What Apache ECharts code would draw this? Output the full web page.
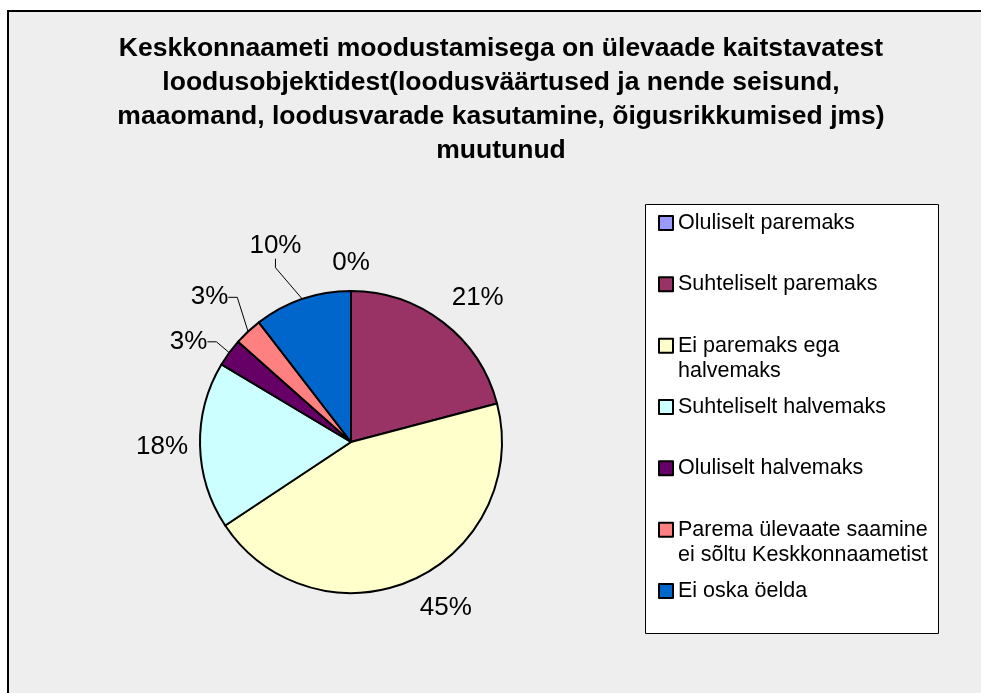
<!DOCTYPE html>
<html>
<head>
<meta charset="utf-8">
<script src="https://cdn.jsdelivr.net/npm/echarts@6/dist/echarts.min.js"></script>
<style>
  html, body { margin: 0; padding: 0; background: #fff; }
  #chart { width: 981px; height: 693px; }
</style>
</head>
<body>
<div id="chart"></div>
<script>
// answers (counts)
const categories = [
  'Oluliselt paremaks',
  'Suhteliselt paremaks',
  'Ei paremaks ega halvemaks',
  'Suhteliselt halvemaks',
  'Oluliselt halvemaks',
  'Parema ülevaate saamine ei sõltu Keskkonnaametist',
  'Ei oska öelda'
];
const counts = [0, 14, 30, 12, 2, 2, 7];
// legend text as wrapped in the original
const legendText = [
  'Oluliselt paremaks',
  'Suhteliselt paremaks',
  'Ei paremaks ega\nhalvemaks',
  'Suhteliselt halvemaks',
  'Oluliselt halvemaks',
  'Parema ülevaate saamine\nei sõltu Keskkonnaametist',
  'Ei oska öelda'
];
const colors = ['#9999FF', '#993366', '#FFFFCC', '#CCFFFF', '#660066', '#FF8080', '#0066CC'];
const withLeader = [false, false, false, false, true, true, true];
// how far the label sits out from the rim, and a small turn (deg) for the dragged ones
const labelGap = [15, 14, 17, 12, 17, 29, 40];
const labelTurn = [0, 0, 0, 0, -5, 0, 2.5];

const titleText = 'Keskkonnaameti moodustamisega on ülevaade kaitstavatest\n' +
  'loodusobjektidest(loodusväärtused ja nende seisund,\n' +
  'maaomand, loodusvarade kasutamine, õigusrikkumised jms)\n' +
  'muutunud';

const FONT = '"Liberation Sans", Arial, sans-serif';
const center = [351, 442];
const radius = 151;
const total = counts.reduce((a, b) => a + b, 0);

// mid angle of each slice, clockwise from 12 o'clock
let acc = 0;
const midAngles = counts.map((v, i) => {
  const a = (acc + v / 2) / total * Math.PI * 2 + labelTurn[i] * Math.PI / 180;
  acc += v;
  return a;
});

function clamp1 (v) {
  return Math.max(-1, Math.min(1, v));
}

// excel-ish placement: nearest corner of the label box sits on the mid-angle ray
function placeLabel (params) {
  const i = params.dataIndex;
  const w = params.labelRect.width;
  const h = params.labelRect.height;
  const dx = Math.sin(midAngles[i]);
  const dy = -Math.cos(midAngles[i]);
  const d = radius + labelGap[i];
  const cornerX = -clamp1(dx * 3) * w / 2;
  const cornerY = -clamp1(dy * 3) * h / 2;
  return {
    x: center[0] + d * dx - cornerX,
    y: center[1] + d * dy - cornerY,
    align: 'center',
    verticalAlign: 'middle'
  };
}

const legendLine = 25;
const legendFirst = 223;
const legendStep = 61.33;

const chart = echarts.init(document.getElementById('chart'), null, { renderer: 'canvas' });

chart.setOption({
  backgroundColor: '#ffffff',
  animation: false,
  color: colors,
  title: {
    text: titleText,
    left: 501,
    top: 32,
    padding: 0,
    textAlign: 'center',
    textStyle: {
      fontFamily: FONT,
      fontSize: 26.5,
      fontWeight: 'bold',
      color: '#000',
      lineHeight: 34
    }
  },
  graphic: [
    {
      type: 'rect',
      z: -10,
      silent: true,
      shape: { x: 8, y: 11, width: 1000, height: 700 },
      style: { fill: '#eeeeee', stroke: '#000', lineWidth: 2 }
    },
    {
      type: 'rect',
      z: -5,
      silent: true,
      shape: { x: 645.5, y: 204.5, width: 293, height: 429 },
      style: { fill: '#ffffff', stroke: '#000', lineWidth: 1 }
    }
  ],
  legend: categories.map((name, i) => {
    const n = legendText[i].split('\n').length;
    // a blank first line keeps the first text line level with the swatch
    const shown = n > 1 ? '\n' + legendText[i] : legendText[i];
    return {
      data: [name],
      orient: 'vertical',
      left: 658,
      top: legendFirst + i * legendStep - (2 * n - 1) * legendLine / 2,
      padding: 0,
      itemWidth: 14,
      itemHeight: 14,
      icon: 'rect',
      itemStyle: { borderColor: '#000', borderWidth: 2 },
      formatter: () => shown,
      textStyle: {
        fontFamily: FONT,
        fontSize: 21.5,
        color: '#000',
        lineHeight: legendLine
      }
    };
  }),
  series: [{
    type: 'pie',
    center: center,
    radius: radius,
    startAngle: 90,
    clockwise: true,
    avoidLabelOverlap: false,
    itemStyle: { borderColor: '#000', borderWidth: 2 },
    label: {
      show: true,
      position: 'outside',
      fontFamily: FONT,
      fontSize: 26,
      color: '#000',
      formatter: p => Math.round(p.value / total * 100) + '%'
    },
    labelLine: {
      show: false,
      length: 10,
      length2: 9,
      lineStyle: { color: '#000', width: 1 }
    },
    labelLayout: placeLabel,
    emphasis: { disabled: true },
    data: categories.map((name, i) => ({
      name: name,
      value: counts[i],
      labelLine: { show: withLeader[i] }
    }))
  }]
});
</script>
</body>
</html>
